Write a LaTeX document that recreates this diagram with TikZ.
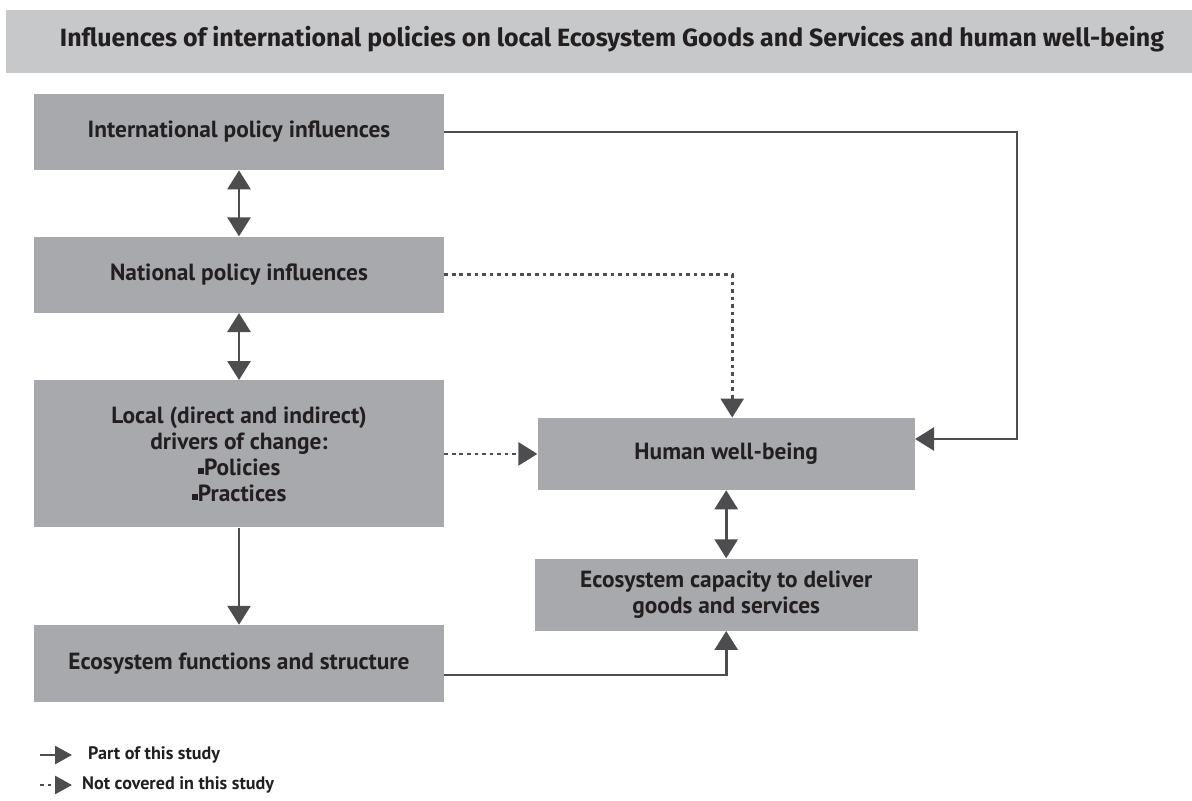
\documentclass[tikz,border=0pt]{standalone}
\usepackage{fontspec}
\setmainfont{PT Sans}
\newfontfamily\headfont{Fira Sans}
\usetikzlibrary{arrows.meta,positioning}

\definecolor{boxgray}{HTML}{A7A9AC}
\definecolor{bargray}{HTML}{C7C8CA}
\definecolor{linegray}{HTML}{4D4D4F}
\definecolor{inkblack}{HTML}{231F20}

\newcommand{\sqbullet}{\rule[0.05ex]{0.55ex}{0.55ex}}

\begin{document}
\begin{tikzpicture}[
  font=\bfseries\fontsize{13.3}{14.8}\selectfont,
  box/.style={fill=boxgray, text=inkblack, minimum width=8.2cm, minimum height=1.52cm,
              align=center, inner sep=2pt},
  rbox/.style={box, minimum width=7.6cm, minimum height=1.44cm},
  link/.style={draw=linegray, line width=1.6pt},
  dotlink/.style={link, dash pattern=on 2.1pt off 2.2pt},
  >={Triangle[width=0.46cm, length=0.38cm]}]
  \useasboundingbox (0,0) rectangle (23.84,-16.02);
  % heading bar
  \fill[bargray] (0.12,-0.2) rectangle (23.84,-1.46);
  \node[text=inkblack, font=\headfont\bfseries\fontsize{14.2}{16}\selectfont] (title) at (12.24,-0.78)
      {Influences of international policies on local Ecosystem Goods and Services and human well-being};
  % left column
  \node[box] (intl) at (4.78,-2.64) {International policy influences};
  \node[box, below=1.32cm of intl.south, anchor=north] (natl) {National policy influences};
  \node[box, minimum height=2.94cm, below=1.34cm of natl.south, anchor=north] (local)
      {Local (direct and indirect)\\ drivers of change:\\ \sqbullet Policies\\ \sqbullet Practices};
  \node[box, minimum height=1.54cm, below=1.94cm of local.south, anchor=north] (ecofn)
      {Ecosystem functions and structure};
  % right column
  \node[rbox, minimum width=7.54cm, right=1.86cm of local] (hwb) {Human well-being};
  \node[rbox, minimum width=7.66cm, below=1.36cm of hwb] (ecocap)
      {Ecosystem capacity to deliver\\ goods and services};
  % connectors
  \draw[link, <->] (intl) -- (natl);
  \draw[link, <->] (natl) -- (local);
  \draw[link, ->] (local) -- (ecofn);
  \draw[link, <->] (hwb) -- (ecocap);
  \draw[link, ->] (intl.east) -| (20.34,-8.78) -- (hwb.east |- 0,-8.78);
  \draw[dotlink, ->] (natl.east) -| ([xshift=0.12cm]hwb.north);
  \draw[dotlink, ->] (local.east |- hwb) -- (hwb.west);
  \draw[link, ->] (ecofn.east |- 0,-13.5) -| (ecocap.south);
  % legend
  \coordinate (lgA) at (0.8,-15.1);
  \coordinate (lgB) at (0.8,-15.7);
  \draw[link, -{Triangle[width=0.36cm, length=0.34cm]}] (lgA) -- ++(0.64,0) coordinate (lgAend);
  \draw[dotlink, -{Triangle[width=0.36cm, length=0.34cm]}] (lgB) -- ++(0.64,0) coordinate (lgBend);
  \node[anchor=west, font=\bfseries\fontsize{10.3}{11}\selectfont, text=inkblack, right=0.2cm of lgAend] (lgpart)
      {Part of this study};
  \node[anchor=west, font=\bfseries\fontsize{10.3}{11}\selectfont, text=inkblack, right=0.08cm of lgBend] (lgnot)
      {Not covered in this study};
\end{tikzpicture}
\end{document}
